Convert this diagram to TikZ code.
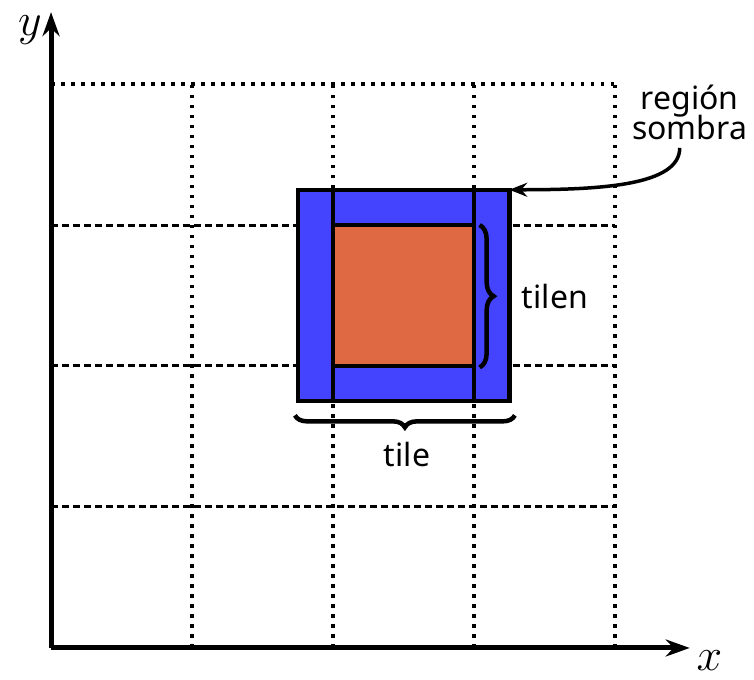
\documentclass[tikz,border=0pt]{standalone}
\usepackage{fix-cm}
\usepackage{fontspec}
\setmainfont{Noto Sans}
\usetikzlibrary{arrows.meta,decorations.pathreplacing}
\definecolor{sombra}{HTML}{4444FF}
\definecolor{tilecol}{HTML}{DE6942}

\begin{document}
\begin{tikzpicture}[x=141pt,y=141pt,font=\fontsize{32}{36}\selectfont]
	\useasboundingbox (-0.362,-0.227) rectangle (4.986,4.596);
	% grid of tiles
	\foreach \i in {1,...,4}
		\draw [line width=3.5pt, dash pattern=on 3.5pt off 6.5pt] (\i,0)--(\i,4);
	\foreach \j in {1,2,3}
		\draw [line width=3pt, dash pattern=on 7pt off 4pt] (0,\j)--(4,\j);
	\draw [line width=3.5pt, dash pattern=on 3.5pt off 6.5pt] (0,4)--(4,4);
	% tile and its shadow region
	\draw [line width=4.5pt, fill=sombra] (1.75,1.75) rectangle (3.25,3.25);
	\draw [line width=4.5pt, fill=tilecol] (2,2) rectangle (3,3);
	\draw [line width=4.5pt] (2,1.75)--(2,3.25) (3,1.75)--(3,3.25);
	% axes
	\coordinate (O) at (0,0);
	\coordinate (xend) at (4.53,0);
	\coordinate (yend) at (0,4.51);
	\draw [line width=5pt] [-{Stealth[length=24pt,width=17pt]}] (O)--(xend);
	\draw [line width=5pt] [-{Stealth[length=24pt,width=17pt]}] (O)--(yend);
	\node (xlab) at (4.67,-0.09) {\fontsize{46}{50}\selectfont$x$};
	\node (ylab) at (-0.15,4.38) {\fontsize{46}{50}\selectfont$y$};
	% braces
	\draw [line width=4.5pt, decorate, decoration={brace, amplitude=12pt}] (3.29,1.65)--(1.73,1.65);
	\draw [line width=4.5pt, decorate, decoration={brace, amplitude=14pt}] (3.04,3.0)--(3.04,1.99);
	\node (tile) at (2.525,1.37) {tile};
	\node (tilen) at (3.574,2.49) {tilen};
	% label of the shadow region
	\node [align=center, inner sep=2pt] (region) at (4.53,3.80) {región\\[-6pt]sombra};
	\coordinate (corner) at (3.25,3.25);
	\draw [line width=3.5pt] [-{Stealth[length=18pt,width=14pt,inset=6pt]}] ([xshift=-10pt,yshift=-6pt]region.south) .. controls (4.46,3.28) and (3.9,3.25) .. (corner);
\end{tikzpicture}
\end{document}
